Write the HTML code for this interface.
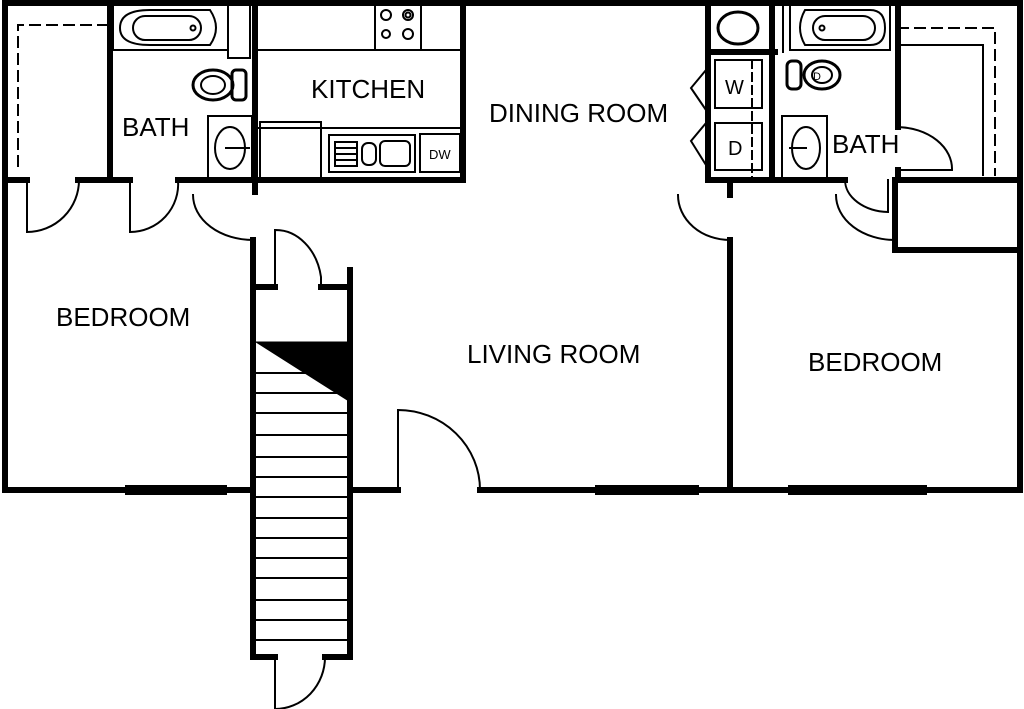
<!DOCTYPE html>
<html><head><style>
html,body{margin:0;padding:0;background:#fff;}
svg{display:block;}
text{font-family:"Liberation Sans",sans-serif;fill:#000;}
</style></head><body>
<svg width="1024" height="709" viewBox="0 0 1024 709" xmlns="http://www.w3.org/2000/svg">
<g stroke="#000" fill="none" stroke-linecap="square">
<g stroke-width="6">
<path d="M5 3 H1020 V490"/>
<path d="M5 3 V490 H253"/>
<path d="M350 490 H398"/>
<path d="M480 490 H1020"/>
<path d="M110 3 V180"/>
<path d="M5 180 H27 M78 180 H130 M178 180 H255"/>
<path d="M255 3 V192"/>
<path d="M463 3 V180 H258"/>
<path d="M253 240 V657 H275 M325 657 H350 V270"/>
<path d="M253 287 H275 M321 287 H350"/>
<path d="M708 3 V180 H730 V195 M730 240 V490"/>
<path d="M730 180 H845"/>
<path d="M772 3 V180"/>
<path d="M708 52 H775"/>
<path d="M898 3 V127 M898 170 V180 H1020"/>
<path d="M895 180 V250 H1020"/>
</g>
<g stroke-width="10">
<path d="M130 490 H222"/>
<path d="M600 490 H694"/>
<path d="M793 490 H922"/>
</g>
<g stroke-width="2">
<path d="M27 180 V232 A52 52 0 0 0 79 180"/>
<path d="M130 180 V232 A48 48 0 0 0 178 180"/>
<path d="M193 195 A60 45 0 0 0 253 240 H255"/>
<path d="M275 287 V230 A46 57 0 0 1 321 277 V287"/>
<path d="M398 490 V410 A82 80 0 0 1 480 490"/>
<path d="M275 657 V709 A50 52 0 0 0 325 657"/>
<path d="M678 195 A52 45 0 0 0 730 240"/>
<path d="M836 195 A59 45 0 0 0 895 240"/>
<path d="M845 180 A45 32 0 0 0 888 212 V180"/>
<path d="M898 127 A56 42 0 0 1 952 170 H898"/>
<path d="M108 25 H18 V172" stroke-dasharray="10 7"/>
<path d="M898 28 H995 V175" stroke-dasharray="10 7"/>
<path d="M898 45 H983 V175"/>
<path d="M752 60 V178" stroke-dasharray="8 5"/>
<rect x="113" y="5" width="115" height="45"/>
<path d="M150 10 H210 Q222 28 210 45 H150 Q120 45 120 28 Q120 10 150 10Z"/>
<rect x="133" y="16" width="68" height="24" rx="12"/>
<circle cx="193" cy="28" r="2.5"/>
<rect x="228" y="5" width="22" height="53"/>
<ellipse cx="213" cy="85" rx="20" ry="15" stroke-width="3"/>
<ellipse cx="213" cy="85" rx="12" ry="9"/>
<rect x="232" y="70" width="14" height="30" rx="4" stroke-width="3"/>
<rect x="208" y="116" width="44" height="62"/>
<ellipse cx="230" cy="148" rx="15" ry="21"/>
<path d="M226 148 H249"/>
<rect x="375" y="5" width="46" height="45"/>
<circle cx="386" cy="15" r="5"/><circle cx="408" cy="15" r="5"/><circle cx="408" cy="15" r="2.5"/>
<circle cx="386" cy="34" r="4"/><circle cx="408" cy="34" r="5"/>
<path d="M255 50 H463"/>
<path d="M258 128 H463"/>
<path d="M260 180 V122 H321 V178"/>
<rect x="329" y="135" width="86" height="37"/>
<rect x="335" y="142" width="22" height="24"/>
<path d="M337 148 H355 M337 154 H355 M337 160 H355"/>
<rect x="362" y="143" width="14" height="22" rx="6"/>
<rect x="380" y="141" width="30" height="25" rx="5"/>
<rect x="420" y="134" width="40" height="38"/>
<ellipse cx="738" cy="28" rx="20" ry="16" stroke-width="3"/>
<path d="M783 3 V52"/>
<rect x="715" y="60" width="47" height="48"/>
<rect x="715" y="123" width="47" height="47"/>
<path d="M706 70 L691 88 L706 110 M706 123 L691 141 L706 165"/>
<rect x="790" y="5" width="100" height="45"/>
<path d="M805 10 H870 Q885 10 885 28 Q885 45 870 45 H805 Q795 28 805 10Z"/>
<rect x="813" y="16" width="62" height="24" rx="12"/>
<circle cx="822" cy="28" r="2.5"/>
<ellipse cx="822" cy="75" rx="18" ry="14" stroke-width="3"/>
<ellipse cx="822" cy="75" rx="10" ry="8"/>
<rect x="787" y="61" width="14" height="28" rx="5" stroke-width="3"/>
<rect x="782" y="116" width="45" height="62"/>
<ellipse cx="806" cy="148" rx="14" ry="21"/>
<path d="M790 148 H806"/>
<path d="M255 373 H350 M255 393 H350 M255 413 H350 M255 435 H350 M255 457 H350 M255 477 H350 M255 497 H350 M255 518 H350 M255 538 H350 M255 558 H350 M255 578 H350 M255 600 H350 M255 620 H350 M255 640 H350"/>
</g>
<polygon points="256,342 352,342 352,403" fill="#000"/>
</g>
<text x="429" y="159" font-size="13">DW</text>
<text x="725" y="94" font-size="20">W</text>
<text x="728" y="155" font-size="20">D</text>
<text x="813" y="80" font-size="11">D</text>
<text x="311" y="98" font-size="26">KITCHEN</text>
<text x="122" y="136" font-size="26">BATH</text>
<text x="489" y="122" font-size="26">DINING ROOM</text>
<text x="832" y="153" font-size="26">BATH</text>
<text x="56" y="326" font-size="26">BEDROOM</text>
<text x="467" y="363" font-size="26">LIVING ROOM</text>
<text x="808" y="371" font-size="26">BEDROOM</text>
</svg>
</body></html>
